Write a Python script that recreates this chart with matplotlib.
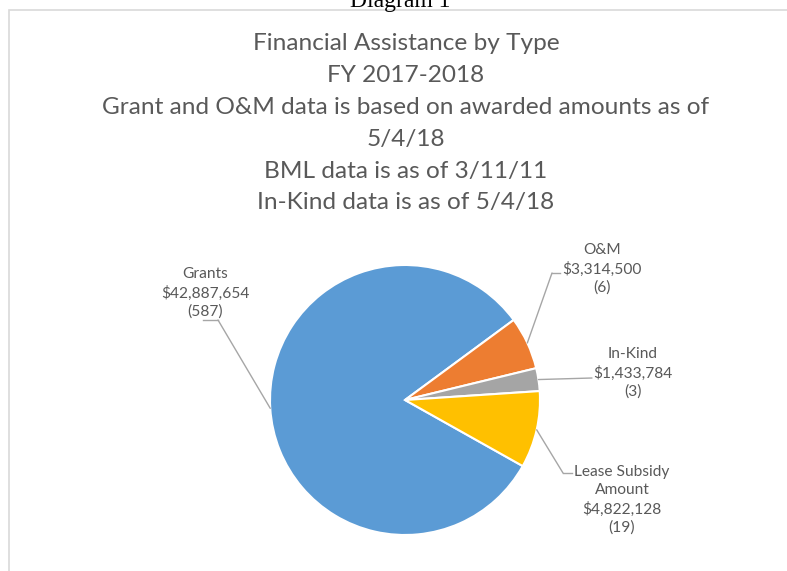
import numpy as np
import matplotlib.pyplot as plt
from matplotlib.patches import Rectangle

# Datos del gráfico
categorias = ["Grants", "O&M", "In-Kind", "Lease Subsidy\nAmount"]
montos = [42887654, 3314500, 1433784, 4822128]
conteos = [587, 6, 3, 19]
colores = ["#5B9BD5", "#ED7D31", "#A5A5A5", "#FFC000"]

titulo = ["Financial Assistance by Type",
          "FY 2017-2018",
          "Grant and O&M data is based on awarded amounts as of",
          "5/4/18",
          "BML data is as of 3/11/11",
          "In-Kind data is as of 5/4/18"]

W, H = 787, 571
gris = "#595959"
fuente = "Lato"

fig = plt.figure(figsize=(W / 100, H / 100), dpi=100)

# marco del gráfico
fig.patches.append(Rectangle((9 / W, -0.05), 1.2, (H - 10) / H + 0.05,
                             transform=fig.transFigure, fill=False,
                             edgecolor="#d9d9d9", lw=1.2))

fig.text(400 / W, 1 - 7 / H, "Diagram 1", ha="center", va="baseline",
         fontsize=17, family="Liberation Serif", color="black")

# título
for i, linea in enumerate(titulo):
    fig.text(406 / W, 1 - (44 + i * 31.8) / H, linea, ha="center", va="center",
             fontsize=17.6, family=fuente, color=gris)

# pastel
cx, cy, r = 405, 400, 135
ax = fig.add_axes([(cx - r) / W, (H - cy - r) / H, 2 * r / W, 2 * r / H])
wedges, _ = ax.pie(montos, colors=colores, startangle=-29.3, counterclock=False,
                   wedgeprops=dict(edgecolor="white", linewidth=1.5))
ax.set_xlim(-1, 1)
ax.set_ylim(-1, 1)

# etiquetas: (centro x, centro y, codo, fin de línea) en pixeles desde arriba
etiquetas = [
    (205, 293, (218, 320), (203, 320)),
    (602, 269, (552, 273), (560, 273)),
    (633, 373, (592, 378), None),
    (622, 500, (563, 473), (572, 473)),
]

for w, cat, m, n, (tx, ty, codo, fin) in zip(wedges, categorias, montos, conteos, etiquetas):
    ang = np.deg2rad((w.theta1 + w.theta2) / 2)
    px, py = np.cos(ang), np.sin(ang)
    texto = f"{cat}\n${m:,}\n({n})"
    fig.text(tx / W, 1 - ty / H, texto, ha="center", va="center",
             fontsize=11.2, family=fuente, color=gris, linespacing=1.35)
    ax.annotate("", xy=(px, py), xytext=(codo[0], H - codo[1]),
                textcoords="figure pixels", annotation_clip=False,
                arrowprops=dict(arrowstyle="-", color="#a6a6a6", lw=1,
                                shrinkA=0, shrinkB=0))
    if fin is not None:
        fig.add_artist(plt.Line2D([codo[0] / W, fin[0] / W],
                                  [1 - codo[1] / H, 1 - fin[1] / H],
                                  color="#a6a6a6", lw=1))

fig.savefig("out.png", dpi=100)
